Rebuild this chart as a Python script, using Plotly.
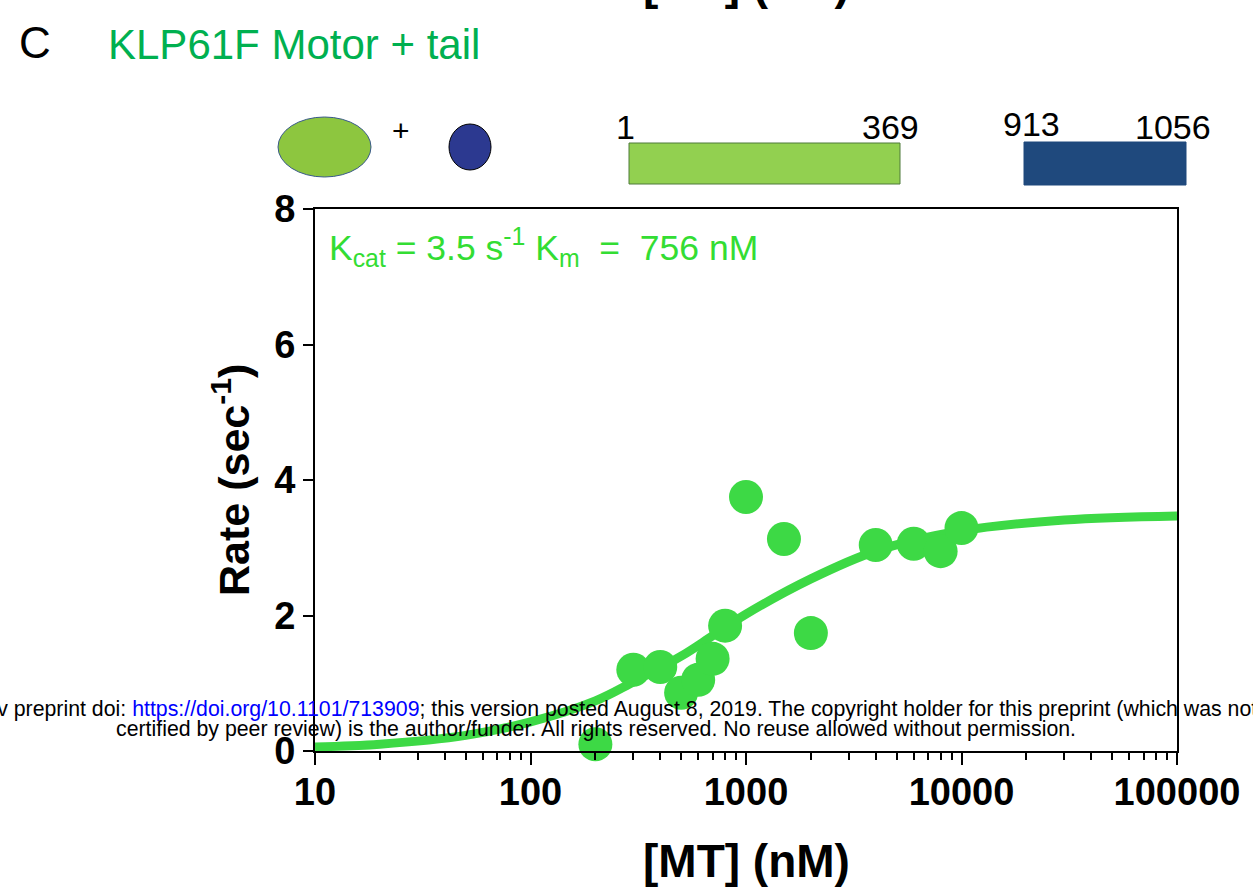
import plotly.graph_objects as go

# ---- data ----
mt_conc = [200, 300, 400, 500, 600, 700, 800, 1000, 1500, 2000, 4000, 6000, 8000, 10000]
rate = [0.10, 1.20, 1.24, 0.86, 1.05, 1.36, 1.85, 3.75, 3.13, 1.74, 3.04, 3.06, 2.95, 3.29]

fit_x = [10, 20, 50, 100, 200, 300, 500, 700, 1000, 2000, 4000, 10000, 30000, 100000]
fit_y = [0.06, 0.10, 0.23, 0.43, 0.74, 1.02, 1.40, 1.70, 2.02, 2.54, 2.95, 3.25, 3.41, 3.47]

x_tick_vals = [10, 100, 1000, 10000, 100000]
x_tick_text = ["10", "100", "1000", "10000", "100000"]
y_tick_vals = [0, 2, 4, 6, 8]

domain_labels = ["1", "369", "913", "1056"]

GREEN = "#3dd945"
FONT = "Liberation Sans"

# minor log ticks (2..9 within each decade)
minor_vals = [m * d for d in x_tick_vals[:-1] for m in range(2, 10)]

# plot area in pixels
W, H = 1253, 891
PL, PR, PT, PB = 315, 1177, 209, 751


def px(x):
    return (x - PL) / (PR - PL)


def py(y):
    return (PB - y) / (PB - PT)


fig = go.Figure()
fig.add_trace(go.Scatter(
    x=fit_x, y=fit_y, mode="lines",
    line=dict(color=GREEN, width=9, shape="spline", smoothing=1.0),
    hoverinfo="skip", showlegend=False, cliponaxis=False,
))
fig.add_trace(go.Scatter(
    x=mt_conc, y=rate, mode="markers",
    marker=dict(color=GREEN, size=34, line=dict(width=0)),
    showlegend=False, cliponaxis=False,
))

shapes = [
    dict(type="circle", xref="paper", yref="paper",
         x0=px(278), x1=px(371), y0=py(177), y1=py(117),
         fillcolor="#8dc63f", line=dict(color="#3a5a8c", width=1), layer="above"),
    dict(type="circle", xref="paper", yref="paper",
         x0=px(449), x1=px(491), y0=py(170), y1=py(124),
         fillcolor="#2c3990", line=dict(color="black", width=1), layer="above"),
    dict(type="rect", xref="paper", yref="paper",
         x0=px(629), x1=px(900), y0=py(184), y1=py(143),
         fillcolor="#92d050", line=dict(color="#4f7a3a", width=1), layer="above"),
    dict(type="rect", xref="paper", yref="paper",
         x0=px(1024), x1=px(1186), y0=py(185), y1=py(142),
         fillcolor="#1f497d", line=dict(color="#1f497d", width=1), layer="above"),
]

ann = []


def add_text(text, x, y, size, color="black", xanchor="center", yanchor="middle",
             weight="normal", angle=0):
    ann.append(dict(text=text, xref="paper", yref="paper", x=px(x), y=py(y),
                    xanchor=xanchor, yanchor=yanchor, showarrow=False, textangle=angle,
                    font=dict(family=FONT, size=size, color=color, weight=weight)))


# panel letter and title
add_text("C", 35, 42, 44, xanchor="center")
add_text("KLP61F Motor + tail", 106, 44, 42, color="#00b050", xanchor="left")
# cut-off title from the panel above
add_text("[MT] (nM)", 746, 11, 46, xanchor="center", yanchor="bottom", weight="bold")

# top cartoon labels
add_text("+", 401, 131, 30)
add_text(domain_labels[0], 625, 127, 34)
add_text(domain_labels[1], 890, 127, 34)
add_text(domain_labels[2], 1031, 124, 34)
add_text(domain_labels[3], 1173, 127, 34)

# kinetic constants
add_text("K<sub>cat</sub> = 3.5 s<sup>-1</sup> K<sub>m</sub>  =  756 nM", 327, 247, 35.5,
         color="#33dd33", xanchor="left")

# axis titles
add_text("[MT] (nM)", 746, 861, 46, weight="bold")
add_text("Rate (sec<sup>-1</sup>)", 231, 480, 43, weight="bold", angle=-90)

# bioRxiv watermark
add_text("bioRxiv preprint doi: <span style='color:#0000ff'>https://doi.org/10.1101/713909</span>; "
         "this version posted August 8, 2019. The copyright holder for this preprint (which was not",
         -64, 709, 21.3, xanchor="left")
add_text("certified by peer review) is the author/funder. All rights reserved. "
         "No reuse allowed without permission.", 596, 729, 21.3)

fig.update_layout(
    width=W, height=H, autosize=False,
    margin=dict(l=PL, r=W - PR, t=PT, b=H - PB, pad=0),
    plot_bgcolor="white", paper_bgcolor="white",
    shapes=shapes, annotations=ann,
    xaxis=dict(
        type="log", range=[1, 5],
        tickmode="array", tickvals=x_tick_vals, ticktext=x_tick_text,
        ticks="outside", ticklen=12, tickwidth=2, tickcolor="black",
        ticklabelstandoff=-6,
        minor=dict(tickmode="array", tickvals=minor_vals, ticks="outside", ticklen=7,
                   tickwidth=1.5, tickcolor="black", showgrid=False),
        showline=True, linecolor="black", linewidth=2, mirror=True,
        showgrid=False, zeroline=False,
        tickfont=dict(family=FONT, size=38, color="black", weight="bold"),
    ),
    yaxis=dict(
        range=[0, 8],
        tickmode="array", tickvals=y_tick_vals,
        ticks="outside", ticklen=10, tickwidth=2, tickcolor="black",
        showline=True, linecolor="black", linewidth=2, mirror=True,
        showgrid=False, zeroline=False,
        tickfont=dict(family=FONT, size=38, color="black", weight="bold"),
    ),
)

fig.write_html("out.html")
